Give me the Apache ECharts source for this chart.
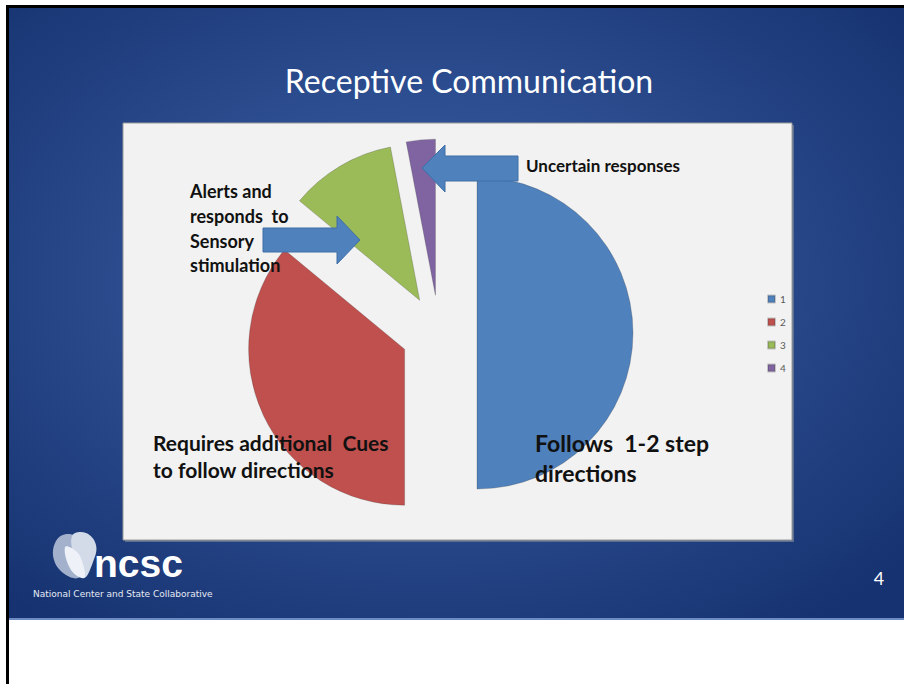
<!DOCTYPE html>
<html>
<head>
<meta charset="utf-8">
<script src="https://cdn.jsdelivr.net/npm/echarts@6/dist/echarts.min.js"></script>
<style>
  html, body { margin: 0; padding: 0; background: #fff; }
  #chart { width: 904px; height: 684px; }
</style>
</head>
<body>
<div id="chart"></div>
<script>
// slice names and shares
var categories = ['1', '2', '3', '4'];
var shares = [50, 36, 11, 3];
var sliceColors = ['#4f81bd', '#c0504d', '#9bbb59', '#8064a2'];

var myChart = echarts.init(document.getElementById('chart'), null, { renderer: 'svg' });

var font = 'Lato, "Open Sans", sans-serif';

// slide background + frame (behind the pie)
var back = [
  { type: 'rect', z: 0, shape: { x: 9, y: 8, width: 895, height: 611 },
    style: { fill: new echarts.graphic.RadialGradient(0.47, 0.45, 0.7, [
      { offset: 0, color: '#3e63a9' },
      { offset: 1, color: '#163270' }
    ]) } },
  { type: 'rect', z: 0, shape: { x: 9, y: 618, width: 895, height: 2 }, style: { fill: '#6d8cc6' } },
  { type: 'rect', z: 0, shape: { x: 6, y: 5, width: 898, height: 3 }, style: { fill: '#000' } },
  { type: 'rect', z: 0, shape: { x: 6, y: 5, width: 3, height: 679 }, style: { fill: '#000' } },
  // chart area
  { type: 'rect', z: 0, shape: { x: 125, y: 125, width: 669, height: 417 }, style: { fill: '#5d6f8f' } },
  { type: 'rect', z: 0, shape: { x: 123, y: 123, width: 669, height: 417 },
    style: { fill: '#f2f2f2', stroke: '#9a9a9a', lineWidth: 1 } },
  { type: 'text', z: 1, style: { text: 'Receptive Communication', x: 469, y: 80, fill: '#fff',
    font: '32px ' + font, align: 'center', verticalAlign: 'middle' } },
  // logo petals
  { type: 'polygon', z: 1, shape: { smooth: 0.4, points: [[56, 541], [68, 534], [81, 541], [86, 558], [80, 577], [66, 575], [54, 560]] },
    style: { fill: '#a3b1cc' } },
  { type: 'polygon', z: 1, shape: { smooth: 0.4, points: [[72, 536], [86, 533], [96, 545], [93, 562], [84, 578], [76, 562]] },
    style: { fill: '#d3dae8' } },
  { type: 'polygon', z: 1, shape: { smooth: 0.4, points: [[65, 547], [76, 551], [83, 564], [84, 578], [71, 570]] },
    style: { fill: '#eef1f7' } },
  { type: 'text', z: 1, style: { text: 'ncsc', x: 94, y: 563, fill: '#fff',
    font: 'bold 39px "Liberation Sans", sans-serif', align: 'left', verticalAlign: 'middle' } },
  { type: 'text', z: 1, style: { text: 'National Center and State Collaborative', x: 33, y: 594, fill: '#e6ebf5',
    font: '9px "DejaVu Sans", sans-serif', align: 'left', verticalAlign: 'middle' } },
  { type: 'text', z: 1, style: { text: '4', x: 879, y: 578, fill: '#fff',
    font: '18px ' + font, align: 'center', verticalAlign: 'middle' } }
];

// arrows and text boxes (over the pie)
var arrowStyle = { fill: '#4f81bd', stroke: '#3f6ea6', lineWidth: 1 };
var front = [
  { type: 'polygon', z: 10, shape: { points: [[518, 156], [445, 156], [445, 145], [422, 168], [445, 192], [445, 181], [518, 181]] },
    style: arrowStyle },
  { type: 'polygon', z: 10, shape: { points: [[263, 228], [337, 228], [337, 216], [360, 240], [337, 264], [337, 252], [263, 252]] },
    style: arrowStyle },
  { type: 'text', z: 11, style: { text: 'Uncertain responses', x: 526, y: 165, fill: '#111',
    font: 'bold 17px ' + font, align: 'left', verticalAlign: 'middle' } },
  { type: 'text', z: 11, style: { text: 'Alerts and\nresponds  to\nSensory\nstimulation', x: 190, y: 179, fill: '#111',
    font: 'bold 18px ' + font, lineHeight: 24.6, align: 'left', verticalAlign: 'top' } },
  { type: 'text', z: 11, style: { text: 'Requires additional  Cues\nto follow directions', x: 153, y: 429, fill: '#111',
    font: 'bold 21px ' + font, lineHeight: 27, align: 'left', verticalAlign: 'top' } },
  { type: 'text', z: 11, style: { text: 'Follows  1-2 step\ndirections', x: 535, y: 428, fill: '#111',
    font: 'bold 23px ' + font, lineHeight: 30, align: 'left', verticalAlign: 'top' } }
];

var pieData = categories.map(function (name, i) {
  return { name: name, value: shares[i], selected: true,
    itemStyle: { color: sliceColors[i] } };
});

var option = {
  animation: false,
  color: sliceColors,
  legend: {
    orient: 'vertical',
    left: 762,
    top: 289,
    itemWidth: 7,
    itemHeight: 7,
    itemGap: 13,
    icon: 'rect',
    selectedMode: false,
    textStyle: { color: '#595959', fontSize: 10, fontFamily: font },
    data: categories
  },
  graphic: { elements: back.concat(front) },
  series: [
    {
      type: 'pie',
      z: 5,
      center: [439, 333],
      radius: 156,
      startAngle: 90,
      clockwise: true,
      selectedMode: 'multiple',
      selectedOffset: 38,
      silent: true,
      label: { show: false },
      labelLine: { show: false },
      itemStyle: { borderColor: 'rgba(60,60,60,0.25)', borderWidth: 1 },
      select: { itemStyle: { borderColor: 'rgba(60,60,60,0.25)', borderWidth: 1 } },
      emphasis: { disabled: true },
      data: pieData
    }
  ]
};

myChart.setOption(option);
</script>
</body>
</html>
